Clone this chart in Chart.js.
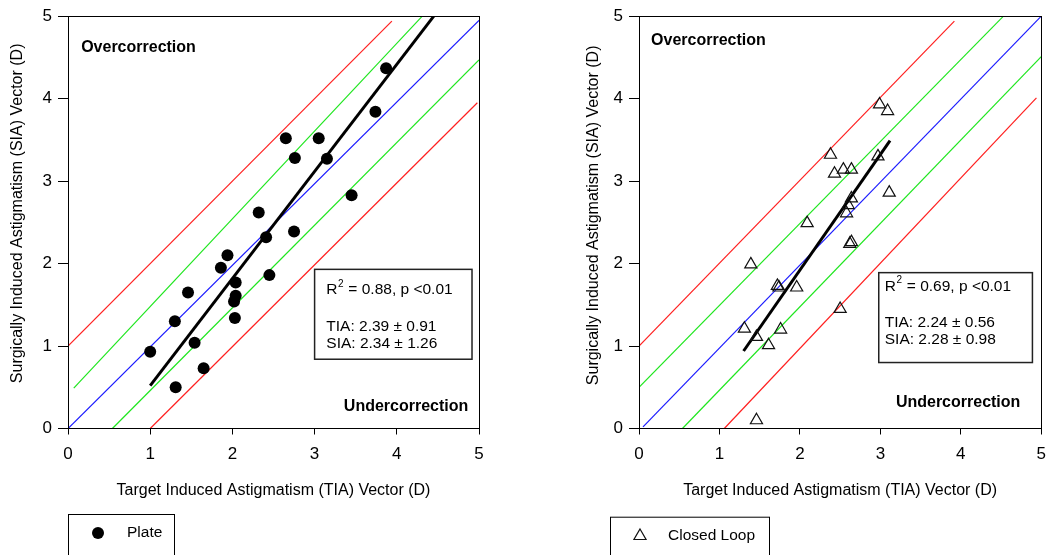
<!DOCTYPE html>
<html><head><meta charset="utf-8">
<script src="https://cdn.jsdelivr.net/npm/chart.js@4.4.1/dist/chart.umd.min.js"></script>
<style>
html,body{margin:0;padding:0;background:#fff;width:1056px;height:555px;overflow:hidden}
canvas{position:absolute;left:0;top:0}
</style></head>
<body>
<canvas id="c1" width="1056" height="555"></canvas>
<canvas id="c2" width="1056" height="555"></canvas>
<script>
// ---- data ----
const axisTicks = [0, 1, 2, 3, 4, 5];

const plateTIA = [3.87,3.74,2.65,3.05,2.76,3.15,3.45,2.32,2.41,2.75,1.94,1.86,2.04,2.45,1.46,2.04,2.02,2.03,1.30,1.54,1.00,1.65,1.31];
const plateSIA = [4.37,3.84,3.52,3.52,3.28,3.27,2.83,2.62,2.32,2.39,2.10,1.95,1.77,1.86,1.65,1.61,1.54,1.34,1.30,1.04,0.93,0.73,0.50];

const closedTIA = [2.99,3.09,2.38,2.97,2.54,2.64,2.43,3.11,2.64,2.60,2.58,2.09,2.64,2.62,1.39,1.72,1.74,1.96,2.50,1.31,1.76,1.46,1.61,1.46];
const closedSIA = [3.93,3.85,3.32,3.30,3.14,3.14,3.09,2.86,2.79,2.71,2.61,2.49,2.26,2.24,1.99,1.73,1.71,1.71,1.45,1.21,1.20,1.11,1.01,0.10];

// reference lines (endpoints [TIA, SIA])
const plateIdentity  = [[0, 0], [5, 4.95]];
const platePlusHalf  = [[0.07, 0.49], [4.31, 5]];
const plateMinusHalf = [[0.54, 0], [5, 4.47]];
const platePlusOne   = [[0, 1.0], [3.94, 4.94]];
const plateMinusOne  = [[1.0, 0], [4.98, 3.95]];
const plateFit       = [[1.0, 0.52], [4.45, 5.0]];

const closedIdentity  = [[0.05, 0.02], [5, 5]];
const closedPlusHalf  = [[0, 0.5], [4.53, 5]];
const closedMinusHalf = [[0.54, 0], [5, 4.51]];
const closedPlusOne   = [[0, 1.0], [3.92, 4.94]];
const closedMinusOne  = [[1.06, 0], [4.94, 4.01]];
const closedFit       = [[1.30, 0.94], [3.12, 3.49]];

const plateStats  = ['0.88', 'p <0.01', 'TIA: 2.39 \u00B1 0.91', 'SIA: 2.34 \u00B1 1.26'];
const closedStats = ['0.69', 'p <0.01', 'TIA: 2.24 \u00B1 0.56', 'SIA: 2.28 \u00B1 0.98'];

const xTitle = 'Target Induced Astigmatism (TIA) Vector (D)';
const yTitle = 'Surgically Induced Astigmatism (SIA) Vector (D)';
const legendPlate = 'Plate';
const legendClosed = 'Closed Loop';

// ---- rendering ----
const FONT = "'Liberation Sans', Arial, sans-serif";
const toXY = a => a.map(p => ({x: p[0], y: p[1]}));
const zip = (xs, ys) => xs.map((x, i) => ({x, y: ys[i]}));

function refLine(arr, color, w, order) {
  return {data: toXY(arr), showLine: true, borderColor: color, borderWidth: w,
          pointRadius: 0, order: order, fill: false, tension: 0};
}

function overlay(cfg) {
  return {
    id: 'overlay',
    afterDatasetsDraw(chart) {
      const ctx = chart.ctx, a = chart.chartArea;
      const xs = chart.scales.x, ys = chart.scales.y;
      ctx.save();
      // frame
      ctx.strokeStyle = '#000'; ctx.lineWidth = 1;
      ctx.strokeRect(Math.round(a.left) + 0.5, Math.round(a.top) + 0.5,
                     Math.round(a.right - a.left), Math.round(a.bottom - a.top));
      ctx.fillStyle = '#000';
      // region labels
      ctx.font = 'bold 16px ' + FONT;
      ctx.textBaseline = 'middle';
      ctx.textAlign = 'left';
      ctx.fillText('Overcorrection', xs.getPixelForValue(cfg.over[0]), ys.getPixelForValue(cfg.over[1]));
      ctx.textAlign = 'right';
      ctx.fillText('Undercorrection', xs.getPixelForValue(cfg.under[0]), ys.getPixelForValue(cfg.under[1]));
      // stats box
      const bl = xs.getPixelForValue(cfg.box[0]), br = xs.getPixelForValue(cfg.box[1]);
      const bt = ys.getPixelForValue(cfg.box[2]), bb = ys.getPixelForValue(cfg.box[3]);
      ctx.fillStyle = '#fff';
      ctx.fillRect(bl, bt, br - bl, bb - bt);
      ctx.strokeStyle = '#222'; ctx.lineWidth = 1.5;
      ctx.strokeRect(bl, bt, br - bl, bb - bt);
      ctx.fillStyle = '#000';
      ctx.textAlign = 'left';
      ctx.font = '15.5px ' + FONT;
      const s = cfg.stats;
      let tx = bl + cfg.tx, ty = bt + cfg.ty[0];
      ctx.fillText('R', tx, ty);
      tx += ctx.measureText('R').width;
      ctx.font = '10px ' + FONT;
      ctx.fillText('2', tx + 0.5, ty - 6);
      tx += ctx.measureText('2').width + 1;
      ctx.font = '15.5px ' + FONT;
      ctx.fillText(' = ' + s[0] + ', ' + s[1], tx, ty);
      ctx.fillText(s[2], bl + cfg.tx, bt + cfg.ty[1]);
      ctx.fillText(s[3], bl + cfg.tx, bt + cfg.ty[2]);
      // axis titles
      ctx.font = '16px ' + FONT;
      ctx.textAlign = 'center';
      ctx.textBaseline = 'alphabetic';
      ctx.fillText(xTitle, (a.left + a.right) / 2, 495);
      ctx.save();
      ctx.translate(a.left - cfg.yTitleOff, (a.top + a.bottom) / 2 + cfg.yTitleShift);
      ctx.rotate(-Math.PI / 2);
      ctx.fillText(yTitle, 0, 0);
      ctx.restore();
      // legend box
      const L = cfg.legend;
      ctx.strokeStyle = '#000'; ctx.lineWidth = 1;
      ctx.strokeRect(L.x + 0.5, L.y + 0.5, L.w, 60);
      ctx.beginPath();
      if (L.style === 'circle') {
        ctx.arc(L.mx, L.my, 6, 0, Math.PI * 2);
        ctx.fillStyle = '#000'; ctx.fill();
      } else {
        const r = 7;
        ctx.moveTo(L.mx, L.my - r);
        ctx.lineTo(L.mx + r * Math.sin(2 * Math.PI / 3), L.my - r * Math.cos(2 * Math.PI / 3));
        ctx.lineTo(L.mx + r * Math.sin(4 * Math.PI / 3), L.my - r * Math.cos(4 * Math.PI / 3));
        ctx.closePath();
        ctx.strokeStyle = '#111'; ctx.lineWidth = 1.2; ctx.stroke();
      }
      ctx.fillStyle = '#000';
      ctx.font = '15.5px ' + FONT;
      ctx.textAlign = 'left'; ctx.textBaseline = 'middle';
      ctx.fillText(L.text, L.tx, L.my);
      ctx.restore();
    }
  };
}

function axis(isX) {
  return {
    type: 'linear', min: 0, max: 5,
    afterBuildTicks: s => { s.ticks = axisTicks.map(v => ({value: v})); },
    afterFit: s => { if (isX) s.height = 40; else s.width = 68; },
    ticks: {font: {family: FONT, size: 17}, color: '#000', padding: isX ? 10 : 6, maxRotation: 0},
    grid: {drawOnChartArea: false, drawTicks: true, tickLength: isX ? 6 : 10, color: '#000', lineWidth: 1},
    border: {display: true, color: '#000', width: 1},
    title: {display: false}
  };
}

function build(id, points, pointOpts, lines, fit, pad, ov) {
  return new Chart(document.getElementById(id), {
    type: 'scatter',
    data: {datasets: [
      Object.assign({data: points, showLine: false, order: 0}, pointOpts),
      refLine(fit, '#000', 3, 1),
      refLine(lines[0], '#1a1aff', 1.2, 2),
      refLine(lines[1], '#1ee61e', 1.2, 2),
      refLine(lines[2], '#1ee61e', 1.2, 2),
      refLine(lines[3], '#ff2020', 1.2, 2),
      refLine(lines[4], '#ff2020', 1.2, 2)
    ]},
    options: {
      responsive: false, animation: false, devicePixelRatio: 1, events: [],
      layout: {padding: pad},
      plugins: {legend: {display: false}, tooltip: {enabled: false}},
      scales: {x: axis(true), y: axis(false)}
    },
    plugins: [overlay(ov)]
  });
}

build('c1', zip(plateTIA, plateSIA),
  {pointStyle: 'circle', pointRadius: 6, pointBackgroundColor: '#000', pointBorderColor: '#000', pointBorderWidth: 0},
  [plateIdentity, platePlusHalf, plateMinusHalf, platePlusOne, plateMinusOne], plateFit,
  {left: 0, right: 577, top: 16, bottom: 86.5},
  {over: [0.16, 4.62], under: [4.87, 0.26], box: [3.0, 4.915, 1.93, 0.84],
   tx: 11.7, ty: [20.7, 57.4, 74.7], stats: plateStats, yTitleOff: 46.5, yTitleShift: -9,
   legend: {x: 68, y: 514, w: 106, style: 'circle', mx: 98, my: 533, tx: 127, text: legendPlate}});

build('c2', zip(closedTIA, closedSIA),
  {pointStyle: 'triangle', pointRadius: 7, pointBackgroundColor: 'rgba(0,0,0,0)', pointBorderColor: '#111', pointBorderWidth: 1.2},
  [closedIdentity, closedPlusHalf, closedMinusHalf, closedPlusOne, closedMinusOne], closedFit,
  {left: 571, right: 6.5, top: 16, bottom: 86.5},
  {over: [0.15, 4.71], under: [4.74, 0.32], box: [2.98, 4.89, 1.89, 0.80],
   tx: 6, ty: [14, 50, 67.3], stats: closedStats, yTitleOff: 41.5, yTitleShift: -7,
   legend: {x: 610, y: 516.7, w: 159, style: 'triangle', mx: 640, my: 536, tx: 668, text: legendClosed}});
</script>
</body></html>
